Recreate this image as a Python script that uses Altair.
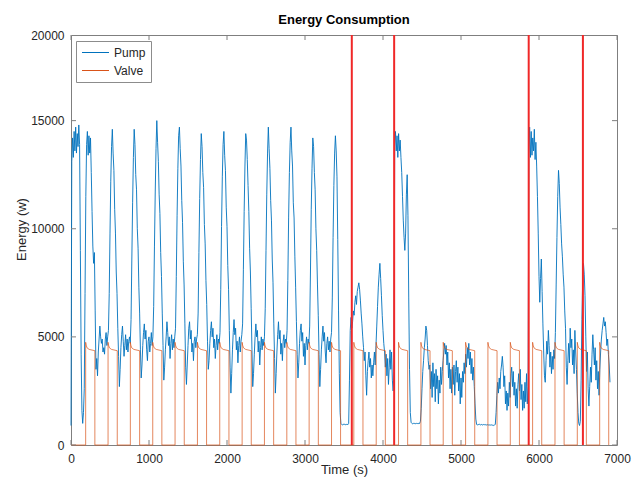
import altair as alt
import pandas as pd

FONT = "Liberation Sans"
BLUE = "#0072BD"
ORANGE = "#D95319"
RED = "#F02828"
AXIS_GRAY = "#7f7f7f"
TEXT = "#262626"

# Pump energy (W), one sample every PUMP_STEP seconds
PUMP_STEP = 10
pump_0000 = [
    900, 13100, 14200, 13300, 14500, 13600, 14700, 13500, 14400, 13800,
    14800, 13900, 9000, 4200, 1600, 1000, 1500, 2600, 7000, 11500,
    13900, 14500, 13400, 14300, 13500, 14200, 12600, 10800, 9200, 8400,
    8900, 6200, 3500, 4000, 3200, 4300, 4900, 5500, 5000, 4700,
    4900, 4300, 4500, 4200, 4900, 5200, 4600, 5000, 5300, 7000,
    9800, 12200, 13800, 14600, 13500, 12700, 10900, 9800, 8000, 7000,
    5400, 4100, 2700, 3500, 4500, 5100, 5500, 4800, 4100, 4600,
    5100, 4400, 4900, 4300, 4800, 5000, 4700, 5800, 8600, 11200,
    13300, 14600, 13900, 12500, 11800, 10000, 9100, 7300, 6100, 4400,
    3100, 3700, 4600, 5200, 5600, 4900, 5300, 4400, 3900, 4800,
]
pump_1000 = [
    5000, 4300, 4700, 5200, 4600, 5000, 6400, 9200, 11700, 13700,
    15000, 14000, 13100, 11600, 10700, 8900, 7800, 6100, 4600, 3000,
    3600, 4400, 5000, 5700, 5200, 4600, 5000, 4000, 4700, 5100,
    4400, 4900, 4500, 5000, 5400, 7800, 10600, 12800, 14300, 14700,
    13700, 12900, 11300, 10300, 8500, 7400, 5600, 3600, 2800, 3700,
    4600, 5400, 5700, 4900, 5300, 4300, 4700, 3900, 4800, 5000,
    4500, 4900, 5100, 6100, 8900, 11400, 13200, 14400, 13800, 12600,
    11900, 10200, 9300, 7600, 6500, 4800, 3500, 3900, 4700, 5300,
    5700, 5000, 5400, 4500, 4900, 4000, 4600, 5100, 4400, 4900,
    4700, 5200, 7200, 10100, 12400, 13900, 14500, 13400, 12700, 11000,
]
pump_2000 = [
    10100, 8300, 7200, 5300, 3600, 2400, 3300, 4400, 5200, 5800,
    5100, 5400, 4400, 4800, 3800, 4600, 5000, 4300, 4800, 5100,
    5600, 8100, 10800, 12900, 14400, 14100, 13200, 12000, 10800, 9100,
    8000, 6300, 4400, 2700, 3300, 4200, 5000, 5600, 5000, 5300,
    4300, 4800, 3700, 4500, 5000, 4400, 4900, 4600, 5000, 6300,
    9000, 11600, 13500, 14700, 13700, 12800, 11300, 10400, 8600, 7500,
    5600, 4000, 2400, 3300, 4300, 5100, 5700, 4900, 5300, 4200,
    4700, 3900, 4800, 5100, 4500, 4900, 4700, 5300, 7600, 10500,
    12600, 14000, 14700, 13600, 12900, 11200, 10500, 8700, 7300, 5700,
    4200, 3100, 3800, 4700, 5300, 5600, 4800, 5200, 4100, 4700,
]
pump_3000 = [
    3700, 4600, 5000, 4400, 4900, 4700, 5500, 8000, 10900, 12800,
    14200, 13800, 12600, 11800, 10000, 9000, 7400, 6000, 4200, 2700,
    3500, 4400, 5000, 5500, 4800, 5200, 4300, 3800, 4700, 5000,
    4400, 4800, 4300, 4900, 5200, 6800, 9600, 12000, 13500, 14300,
    13600, 12400, 9500, 6200, 3300, 1500, 1000, 950, 930, 960,
    940, 970, 930, 950, 960, 940, 1000, 3000, 5300, 5900,
    5400, 5700, 6200, 6000, 6600, 6900, 6500, 7100, 7300, 7500,
    7200, 6700, 6100, 5600, 5000, 4500, 3900, 4300, 3200, 2300,
    3400, 3900, 4300, 3600, 4000, 3100, 3700, 3200, 3800, 4300,
    3700, 4600, 5500, 6400, 7300, 7900, 8400, 7700, 6900, 6000,
]
pump_4000 = [
    5300, 4700, 4300, 3600, 4200, 3200, 4000, 2800, 3600, 4400,
    3500, 4300, 3000, 2500, 3400, 13800, 14500, 13600, 14300, 13300,
    14400, 13600, 14100, 13300, 12600, 11500, 10400, 9600, 9000, 9800,
    11600, 12500, 10600, 6800, 3500, 1500, 1050, 1000, 980, 1000,
    990, 1010, 980, 1000, 990, 1010, 980, 1000, 1100, 1700,
    2600, 3400, 3900, 4500, 4900, 5500, 5300, 4600, 3900, 3500,
    3700, 2600, 3400, 2200, 3800, 2700, 3300, 2000, 3500, 2600,
    3200, 1900, 3000, 2400, 3600, 2800, 3400, 3900, 4300, 4700,
    4200, 4600, 3700, 4300, 3100, 3800, 2600, 3500, 2400, 3600,
    2800, 3700, 2300, 3400, 3900, 2900, 3600, 2500, 3300, 1900,
]
pump_5000 = [
    3100, 2200, 3400, 2900, 3800, 3300, 4200, 3600, 4500, 4000,
    4700, 3700, 4300, 3300, 4000, 3000, 3600, 2700, 1900, 1200,
    950, 930, 950, 940, 960, 930, 950, 940, 920, 950,
    940, 930, 950, 920, 940, 930, 910, 940, 920, 930,
    910, 930, 900, 920, 960, 1500, 2300, 2900, 2400, 3100,
    2600, 3400, 3700, 4100, 3600, 2700, 3200, 1900, 2500, 1600,
    2400, 1800, 2900, 2200, 3300, 3600, 2700, 3400, 2300, 2900,
    1800, 2600, 1700, 2800, 3300, 2500, 3500, 2100, 2800, 1600,
    2500, 1700, 2900, 2000, 3300, 1900, 2700, 13500, 14700, 13300,
    14500, 13400, 14200, 13600, 14600, 13200, 14000, 12900, 11500, 9800,
]
pump_6000 = [
    7800, 6600, 7700, 8600, 7100, 5600, 4300, 3200, 2900, 3900,
    4800, 4200, 5300, 4600, 3600, 4300, 3300, 4100, 3500, 4400,
    4000, 5200, 7400, 9600, 11500, 12700, 12100, 11000, 10200, 9300,
    8700, 7900, 7300, 6200, 5400, 3600, 2800, 3900, 4700, 3800,
    5400, 4500, 4900, 3700, 4400, 3300, 5300, 4300, 3500, 2400,
    1500, 1000, 900, 1100, 3000, 5800, 7600, 8400, 7900, 6900,
    5000, 3400, 4300, 2600, 1800, 2700, 3600, 2900, 4200, 5100,
    4400, 3700, 4500, 3000, 3900, 2600, 3400, 2300, 3500, 4300,
    4900, 5300, 5600, 5900, 5500, 5700, 5200, 4600, 4900, 4200, 3700, 2900,
]

# Valve pulses (s) and the level profile of one pulse
valve_on = [188, 475, 761, 1048, 1334, 1621, 1907, 2194, 2480, 2767, 3053, 3340,
            3626, 3913, 4199, 4486, 4772, 5059, 5345, 5632, 5918, 6205, 6491, 6778]
valve_off = [306, 593, 880, 1165, 1452, 1738, 2025, 2311, 2598, 2884, 3171, 3456,
             3743, 4030, 4316, 4603, 4889, 5176, 5462, 5749, 6035, 6322, 6607, 6894]
valve_profile_dt = [0, 6, 18, 45]
valve_profile_level = [4750, 4620, 4490, 4420]
valve_end_level = 4360

# Red event markers (s)
event_times = [3600, 4143, 5868, 6563]

x_ticks = [0, 1000, 2000, 3000, 4000, 5000, 6000, 7000]
y_ticks = [0, 5000, 10000, 15000]
Y_TOP = 18960          # where the "20000" label sits in the picture
Y_TOP_LABEL = "20000"

W, H = 546, 410

# ---- tables ----
pump = pump_0000 + pump_1000 + pump_2000 + pump_3000 + pump_4000 + pump_5000 + pump_6000
pump_df = pd.DataFrame({
    "t": [i * PUMP_STEP for i in range(len(pump))],
    "v": pump,
    "series": "Pump",
})
pump_df["idx"] = range(len(pump_df))

vt, vv = [0], [0]
for on, off in zip(valve_on, valve_off):
    vt.append(on); vv.append(0)
    for dt, lv in zip(valve_profile_dt, valve_profile_level):
        vt.append(on + dt); vv.append(lv)
    vt.append(off); vv.append(valve_end_level)
    vt.append(off); vv.append(0)
valve_df = pd.DataFrame({"t": vt, "v": vv, "series": "Valve"})
valve_df["idx"] = range(len(valve_df))

events_df = pd.DataFrame({"t": event_times})
xt_df = pd.DataFrame({"t": x_ticks})
yt_df = pd.DataFrame({"v": y_ticks})

X = alt.X(
    "t:Q",
    scale=alt.Scale(domain=[0, 7000], nice=False, zero=False),
    axis=alt.Axis(
        values=x_ticks, format="d", ticks=False, domain=False, grid=False,
        labelFont=FONT, labelFontSize=12, labelColor=TEXT, labelPadding=8,
        labelFlush=False, labelOverlap=False, labelBound=False,
        title="Time (s)", titleFont=FONT, titleFontSize=13, titleFontWeight="normal",
        titleColor=TEXT, titleX=W / 2, titleY=24, titleAlign="center",
        titleBaseline="middle",
    ),
)
Y = alt.Y(
    "v:Q",
    scale=alt.Scale(domain=[0, Y_TOP], nice=False, zero=True),
    axis=alt.Axis(
        values=y_ticks + [Y_TOP], ticks=False, domain=False, grid=False,
        labelExpr=f"datum.value > 17000 ? '{Y_TOP_LABEL}' : format(datum.value, 'd')",
        labelFont=FONT, labelFontSize=12, labelColor=TEXT, labelPadding=7,
        labelFlush=False, labelOverlap=False, labelBound=False,
        title="Energy (w)", titleFont=FONT, titleFontSize=13, titleFontWeight="normal",
        titleColor=TEXT, titleX=-50, titleY=194, titleAngle=270, titleAlign="center",
        titleBaseline="middle",
    ),
)
COLOR = alt.Color(
    "series:N",
    scale=alt.Scale(domain=["Pump", "Valve"], range=[BLUE, ORANGE]),
    legend=alt.Legend(
        title=None, orient="none", legendX=5, legendY=6, symbolType="stroke",
        symbolSize=729, symbolStrokeWidth=1.2, clipHeight=13, rowPadding=5, padding=5,
        labelOffset=4, labelFont=FONT, labelFontSize=12, labelColor=TEXT,
        strokeColor="#8c8c8c", fillColor="white", cornerRadius=0,
    ),
)

pump_line = alt.Chart(pump_df).mark_line(strokeWidth=0.9).encode(
    x=X, y=Y, color=COLOR, order=alt.Order("idx:Q"))
valve_line = alt.Chart(valve_df).mark_line(strokeWidth=0.7).encode(
    x=X, y=Y, color=COLOR, order=alt.Order("idx:Q"))
events = alt.Chart(events_df).mark_rule(color=RED, strokeWidth=2).encode(x=X)

tick_style = dict(color=AXIS_GRAY, strokeWidth=1)
xt_bottom = alt.Chart(xt_df).mark_rule(**tick_style).encode(x=X, y=alt.value(H), y2=alt.value(H - 5))
xt_top = alt.Chart(xt_df).mark_rule(**tick_style).encode(x=X, y=alt.value(0), y2=alt.value(5))
yt_left = alt.Chart(yt_df).mark_rule(**tick_style).encode(y=Y, x=alt.value(0), x2=alt.value(5))
yt_right = alt.Chart(yt_df).mark_rule(**tick_style).encode(y=Y, x=alt.value(W), x2=alt.value(W - 5))

chart = alt.layer(
    pump_line, valve_line, events, xt_bottom, xt_top, yt_left, yt_right
).properties(
    width=W, height=H,
    title=alt.TitleParams(
        text="Energy Consumption", font=FONT, fontSize=13, fontWeight="bold",
        color="#000000", anchor="middle", frame="group", offset=4, baseline="bottom",
        dy=15,
    ),
    autosize=alt.AutoSizeParams(type="none"),
    padding={"left": 63, "top": 27, "right": 16, "bottom": 34},
    background="white",
).configure_view(stroke=AXIS_GRAY, strokeWidth=1)

chart.save("out.html", embed_options={"renderer": "svg", "actions": False})
